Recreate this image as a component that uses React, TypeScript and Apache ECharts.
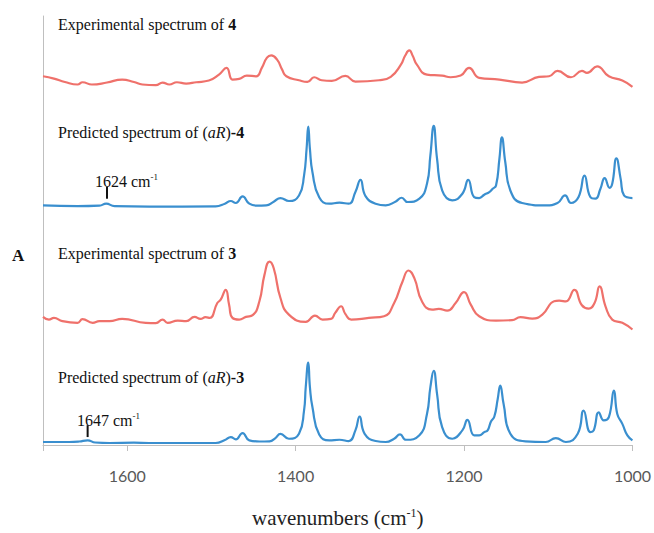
import React, { useEffect, useRef } from "react";
import * as echarts from "echarts";

// Wavenumber axis (cm-1)
const xMin = 1000;
const xMax = 1700;
const xStep = 200;

// Spectra: [wavenumber, intensity (arb. units)] relative to each spectrum's own baseline
const exp4: [number, number][] = [
  [1700, 8.3], [1687, 6], [1674, 2.5], [1659, 0], [1653, 2.3], [1642, 0], [1624, 2], [1606, 5],
  [1592, 2.5], [1582, 0], [1566, -0.7], [1558, 2], [1550, 0], [1541, 2.3], [1530, 1], [1518, 2.3],
  [1503, 4], [1491, 10], [1482, 16.7], [1475, 5], [1467, 5.7], [1458, 9], [1447, 8.3], [1440, 17],
  [1434, 27], [1429, 29.3], [1422, 25], [1416, 15], [1411, 8.3], [1396, 4.3], [1386, 2.7], [1378, 7.3],
  [1369, 4.3], [1357, 3.7], [1341, 8.7], [1329, 3], [1301, 4.3], [1287, 7.7], [1275, 20], [1270, 29],
  [1265, 34.3], [1261, 29], [1256, 20], [1244, 10], [1226, 9], [1216, 7.3], [1204, 9], [1194, 16.7],
  [1182, 6.7], [1158, 5], [1131, 2], [1111, 7.7], [1099, 8.3], [1089, 13.7], [1073, 7.3], [1060, 13.7],
  [1054, 11.7], [1042, 18.3], [1028, 8.3], [1012, 4], [1000, -2.3],
];

const pred4: [number, number][] = [
  [1700, 1.3], [1659, 0.5], [1633, 1], [1625, 3], [1615, 0.5], [1574, 0], [1495, 0.3], [1484, 3],
  [1477, 5.7], [1471, 3.7], [1463, 10.3], [1455, 3], [1446, 1], [1435, 1.3], [1426, 5], [1418, 8.7],
  [1408, 5.7], [1396, 11.3], [1390, 31.3], [1387, 58], [1385, 80.7], [1383, 58], [1380, 34.7], [1372, 9.5],
  [1360, 3], [1348, 4], [1337, 3], [1329, 14.7], [1323, 27], [1317, 10.7], [1305, 3], [1293, 1.3],
  [1281, 5.3], [1274, 9], [1267, 4.7], [1253, 8], [1244, 23], [1240, 51.3], [1236, 81.3], [1232, 48],
  [1226, 16.3], [1214, 6.3], [1202, 13], [1195, 27], [1188, 9.7], [1182, 8.7], [1176, 12], [1170, 14.7],
  [1166, 18], [1162, 21.3], [1158, 48], [1155, 69.7], [1151, 44.7], [1145, 16.3], [1131, 3.7], [1103, 1.3],
  [1089, 3.7], [1080, 11.3], [1073, 3.7], [1064, 9.7], [1057, 31.3], [1050, 9.7], [1044, 8], [1038, 18],
  [1033, 28.7], [1027, 19], [1024, 23], [1019, 48.7], [1014, 28], [1010, 11.3], [1000, 8.7],
];

const exp3: [number, number][] = [
  [1700, 6], [1693, 3.3], [1687, 5], [1677, 1.7], [1659, 0], [1653, 3.7], [1641, 0], [1633, 1.7],
  [1621, 1.7], [1606, 4], [1578, 0], [1566, -0.3], [1558, 3.3], [1552, 0], [1540, 2.3], [1530, 1.7],
  [1520, 6], [1513, 4], [1507, 5.7], [1502, 5], [1493, 20], [1489, 23.3], [1483, 33.3], [1479, 18.3],
  [1475, 5], [1467, 3.3], [1459, 6], [1451, 7.7], [1443, 21.7], [1437, 48.3], [1431, 61.7], [1426, 55],
  [1418, 25], [1408, 8.3], [1388, 1], [1377, 7.3], [1368, 3.3], [1358, 4], [1353, 10], [1346, 16.7],
  [1341, 9], [1334, 3.3], [1313, 5], [1295, 6.7], [1283, 20], [1273, 41.7], [1266, 52.7], [1259, 45],
  [1250, 21.7], [1238, 13.3], [1230, 14], [1220, 12.3], [1210, 20], [1200, 31], [1192, 18.3], [1182, 6.7],
  [1162, 2.3], [1143, 2.7], [1133, 5.7], [1119, 4.3], [1107, 8.3], [1093, 21.7], [1087, 22.3], [1079, 21.7],
  [1069, 33.3], [1060, 17.7], [1052, 14.3], [1045, 20], [1039, 36.7], [1032, 16.7], [1024, 3.3], [1012, 0],
  [1000, -6.7],
];

const pred3: [number, number][] = [
  [1700, 1], [1669, 1], [1657, 1.5], [1647, 2.7], [1638, 0.5], [1621, 0], [1592, 0.3], [1574, 0],
  [1495, 0], [1484, 3], [1477, 6], [1471, 3.7], [1463, 10], [1455, 2.7], [1443, 1.5], [1431, 1.7],
  [1424, 5], [1418, 9.3], [1408, 4.3], [1396, 9.3], [1390, 32.7], [1388, 56], [1385, 81], [1383, 56],
  [1380, 36], [1372, 8.5], [1360, 2.7], [1348, 3.3], [1337, 2], [1329, 12.7], [1324, 26.7], [1318, 9.3],
  [1305, 2], [1293, 1], [1283, 4.3], [1276, 8.7], [1269, 3.3], [1253, 7.7], [1244, 29.3], [1240, 56],
  [1236, 72.7], [1232, 49.3], [1226, 16], [1214, 4.3], [1202, 12.7], [1196, 23.3], [1188, 7.7], [1182, 7.7],
  [1176, 11], [1172, 12.7], [1168, 21.7], [1164, 26.7], [1160, 44.3], [1157, 57.7], [1153, 39.3], [1145, 9.3],
  [1127, 1.7], [1103, 1], [1091, 5], [1079, 1], [1065, 9.3], [1058, 32.7], [1050, 11], [1046, 12.7],
  [1040, 31], [1034, 22.7], [1028, 26], [1022, 52.7], [1018, 29.3], [1012, 19.3], [1006, 7.7], [1000, 2.7],
];

// Vertical stacking offsets of each spectrum (arb. units)
const offsetExp4 = 363;
const offsetPred4 = 240;
const offsetExp3 = 123;
const offsetPred3 = 2;

// Marked bands: [wavenumber, intensity] ends of the tick marks
const mark1624: [number, number][] = [[1624, 8], [1624, 20]];
const mark1647: [number, number][] = [[1647, 6], [1647, 18]];

const RED = "#EF716B";
const BLUE = "#3A8FCF";

const shift = (pts: [number, number][], off: number) => pts.map(([w, a]) => [w, a + off]);

export default function App() {
  const ref = useRef<HTMLDivElement>(null);

  useEffect(() => {
    if (!ref.current) return;
    const chart = echarts.init(ref.current, undefined, { renderer: "svg" });
    const serif = "'Liberation Serif', 'Times New Roman', serif";
    const labelStyle = {
      fontFamily: serif,
      fontSize: 16,
      fill: "#111",
      lineHeight: 18,
      rich: {
        b: { fontFamily: serif, fontSize: 16, fontWeight: "bold", fill: "#111", lineHeight: 18 },
        i: { fontFamily: serif, fontSize: 16, fontStyle: "italic", fill: "#111", lineHeight: 18 },
        sup: { fontFamily: serif, fontSize: 9, fill: "#111", verticalAlign: "top", lineHeight: 9 },
      },
    };
    const txt = (x: number, y: number, text: string) => ({
      type: "text",
      x,
      y,
      style: { ...labelStyle, text, textVerticalAlign: "middle" },
    });

    const lineSeries = (name: string, data: number[][], color: string) => ({
      name,
      type: "line",
      data,
      smooth: 0.5,
      showSymbol: false,
      symbol: "none",
      lineStyle: { color, width: 2.2 },
      itemStyle: { color },
      z: 2,
    });

    chart.setOption({
      animation: false,
      backgroundColor: "#fff",
      grid: { left: 43, right: 21, top: 16, bottom: 85 },
      xAxis: {
        type: "value",
        min: xMin,
        max: xMax,
        interval: xStep,
        inverse: true,
        name: "wavenumbers (cm{sup|-1})",
        nameLocation: "middle",
        nameGap: 62,
        nameTextStyle: {
          fontFamily: serif,
          fontSize: 21,
          color: "#222",
          rich: { sup: { fontFamily: serif, fontSize: 12, color: "#222", verticalAlign: "top" } },
        },
        axisLine: { show: true, lineStyle: { color: "#BFBFBF", width: 1 } },
        axisTick: { show: true, length: 6, lineStyle: { color: "#BFBFBF" } },
        axisLabel: {
          formatter: (v: number) => (v === xMax ? "" : String(v)),
          color: "#595959",
          fontFamily: "Lato, 'Open Sans', sans-serif",
          fontSize: 16,
          margin: 22,
        },
        splitLine: { show: false },
      },
      yAxis: {
        type: "value",
        min: 0,
        max: 432,
        axisLine: { show: true, lineStyle: { color: "#BFBFBF", width: 1 } },
        axisTick: { show: false },
        axisLabel: { show: false },
        splitLine: { show: false },
      },
      series: [
        lineSeries("Experimental spectrum of 4", shift(exp4, offsetExp4), RED),
        lineSeries("Predicted spectrum of (aR)-4", shift(pred4, offsetPred4), BLUE),
        lineSeries("Experimental spectrum of 3", shift(exp3, offsetExp3), RED),
        lineSeries("Predicted spectrum of (aR)-3", shift(pred3, offsetPred3), BLUE),
        {
          type: "line",
          data: shift(mark1624, offsetPred4),
          showSymbol: false,
          symbol: "none",
          lineStyle: { color: "#111", width: 2 },
          z: 3,
        },
        {
          type: "line",
          data: shift(mark1647, offsetPred3),
          showSymbol: false,
          symbol: "none",
          lineStyle: { color: "#111", width: 2 },
          z: 3,
        },
      ],
      graphic: [
        txt(58, 24, "Experimental spectrum of {b|4}"),
        txt(58, 132, "Predicted spectrum of ({i|aR}){b|-4}"),
        txt(95, 181, "1624 cm{sup|-1}"),
        {
          type: "text",
          x: 12,
          y: 255,
          style: {
            text: "A",
            fontFamily: serif,
            fontSize: 17,
            fontWeight: "bold",
            fill: "#111",
            textVerticalAlign: "middle",
          },
        },
        txt(58, 253, "Experimental spectrum of {b|3}"),
        txt(58, 377, "Predicted spectrum of ({i|aR}){b|-3}"),
        txt(77, 420, "1647 cm{sup|-1}"),
      ],
    });
    return () => chart.dispose();
  }, []);

  return (
    <div
      ref={ref}
      style={{ position: "absolute", left: 0, top: 0, width: 654, height: 533 }}
    />
  );
}
